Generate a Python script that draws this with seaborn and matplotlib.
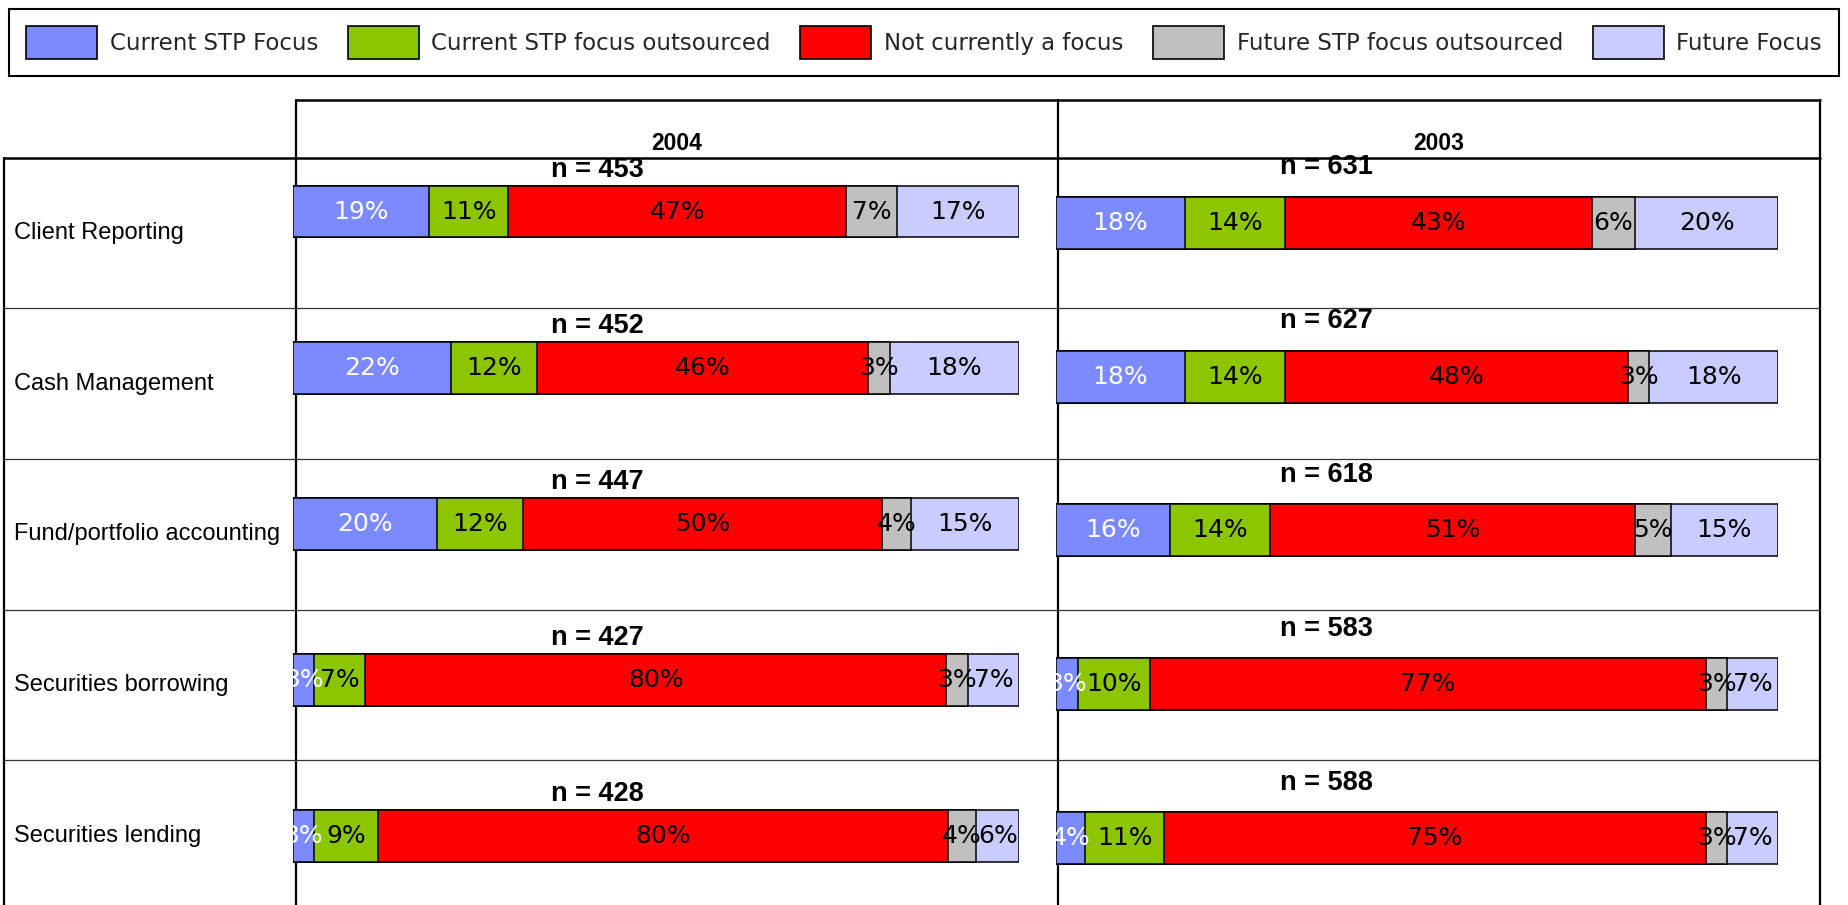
import numpy as np
import pandas as pd
import matplotlib
matplotlib.use('Agg')
import matplotlib.pyplot as plt
from matplotlib.patches import Patch
import seaborn as sns

# ==================== data ====================
rows = ['Client Reporting', 'Cash Management', 'Fund/portfolio accounting',
        'Securities borrowing', 'Securities lending']
categories = ['Current STP Focus', 'Current STP focus outsourced', 'Not currently a focus',
              'Future STP focus outsourced', 'Future Focus']
colors = ['#7B8BFF', '#8CC600', '#FF0000', '#C0C0C0', '#C8CCFF']

# 2004
focus_2004 = [19, 22, 20, 3, 3]
outsourced_2004 = [11, 12, 12, 7, 9]
not_focus_2004 = [47, 46, 50, 80, 80]
future_out_2004 = [7, 3, 4, 3, 4]
future_2004 = [17, 18, 15, 7, 6]
n_2004 = [453, 452, 447, 427, 428]

# 2003
focus_2003 = [18, 18, 16, 3, 4]
outsourced_2003 = [14, 14, 14, 10, 11]
not_focus_2003 = [43, 48, 51, 77, 75]
future_out_2003 = [6, 3, 5, 3, 3]
future_2003 = [20, 18, 15, 7, 7]
n_2003 = [631, 627, 618, 583, 588]

years = ['2004', '2003']

df_2004 = pd.DataFrame(dict(zip(categories, [focus_2004, outsourced_2004, not_focus_2004,
                                             future_out_2004, future_2004])), index=rows)
df_2003 = pd.DataFrame(dict(zip(categories, [focus_2003, outsourced_2003, not_focus_2003,
                                             future_out_2003, future_2003])), index=rows)

# ==================== style ====================
W, H = 1849, 905
sns.set_theme(style='white')
plt.rcParams['font.family'] = ['DejaVu Sans']

fig = plt.figure(figsize=(W / 100, H / 100), dpi=100)


def px_axes(left, top, right, bottom):
    return fig.add_axes([left / W, 1 - bottom / H, (right - left) / W, (bottom - top) / H])


# ==================== table grid ====================
grid = px_axes(0, 0, W, H)
grid.set_xlim(0, W)
grid.set_ylim(H, 0)
grid.set_axis_off()

tbl_left, col1, col2, tbl_right = 4, 296, 1058, 1820
head_top, row_top, row_h = 100, 157.7, 150.67

grid.plot([col1, tbl_right], [head_top, head_top], color='black', lw=1.8)
grid.plot([tbl_left, tbl_right], [row_top, row_top], color='black', lw=1.8)
for xv in (col1, col2, tbl_right):
    grid.plot([xv, xv], [head_top, H], color='black', lw=1.6)
grid.plot([tbl_left, tbl_left], [row_top, H], color='black', lw=1.6)
for k in range(1, len(rows)):
    grid.plot([tbl_left, tbl_right], [row_top + k * row_h] * 2, color='#333333', lw=0.9)

for k, lab in enumerate(rows):
    grid.text(14, row_top + (k + 0.5) * row_h, lab, ha='left', va='center',
              fontsize=17, family='Liberation Sans', color='black')

for (x0, x1), yr in zip([(col1, col2), (col2, tbl_right)], years):
    grid.text((x0 + x1) / 2, 143.5, yr, ha='center', va='center', fontsize=16.5,
              fontweight='bold', family='Liberation Sans', color='black')


# ==================== stacked bars ====================
def draw_panel(df, n_vals, left, right, c0, step, bar_h, n_x, n_dy):
    ax = px_axes(left, c0 - 0.5 * step, right, H)
    shares = df.div(df.sum(axis=1), axis=0) * 100
    cum = shares.cumsum(axis=1)
    # overlay cumulative bars, widest first
    for cat, col in reversed(list(zip(categories, colors))):
        d = pd.DataFrame({'row': rows, 'val': cum[cat].values})
        sns.barplot(data=d, x='val', y='row', orient='h', color=col, saturation=1,
                    edgecolor='black', linewidth=1.1, width=bar_h, errorbar=None, ax=ax)
    ax.set_xlim(0, 100)
    ax.set_ylim((H - c0) / step, -0.5)
    ax.set_axis_off()

    starts = cum - shares
    for i in range(len(rows)):
        for j, cat in enumerate(categories):
            ax.text(starts.iloc[i, j] + shares.iloc[i, j] / 2, i, f'{df[cat].iloc[i]}%',
                    ha='center', va='center', fontsize=18,
                    color='white' if j == 0 else 'black')
        ax.text(n_x, i - n_dy, f'n = {n_vals[i]}', ha='center', va='center',
                fontsize=19.5, fontweight='bold', family='Liberation Sans', color='black')
    return ax


draw_panel(df_2004, n_2004, 292.7, 1019, 211.5, 156.05, 0.333, 42.0, 0.265)
draw_panel(df_2003, n_2003, 1056, 1778, 222.8, 153.8, 0.338, 37.5, 0.36)

# ==================== legend ====================
handles = [Patch(facecolor=c, edgecolor='black', linewidth=1.2) for c in colors]
leg = fig.legend(handles, categories, loc='upper left',
                 bbox_to_anchor=(9 / W, 1 - 73 / H, 1830 / W, 64 / H), mode='expand',
                 ncol=5, fontsize=16.5, handlelength=3.1, handleheight=1.8,
                 handletextpad=0.55, borderpad=0.75, borderaxespad=0,
                 frameon=True, fancybox=False, edgecolor='black', framealpha=1)
leg.get_frame().set_linewidth(1.5)

fig.savefig('out.png', dpi=100)
plt.close(fig)
